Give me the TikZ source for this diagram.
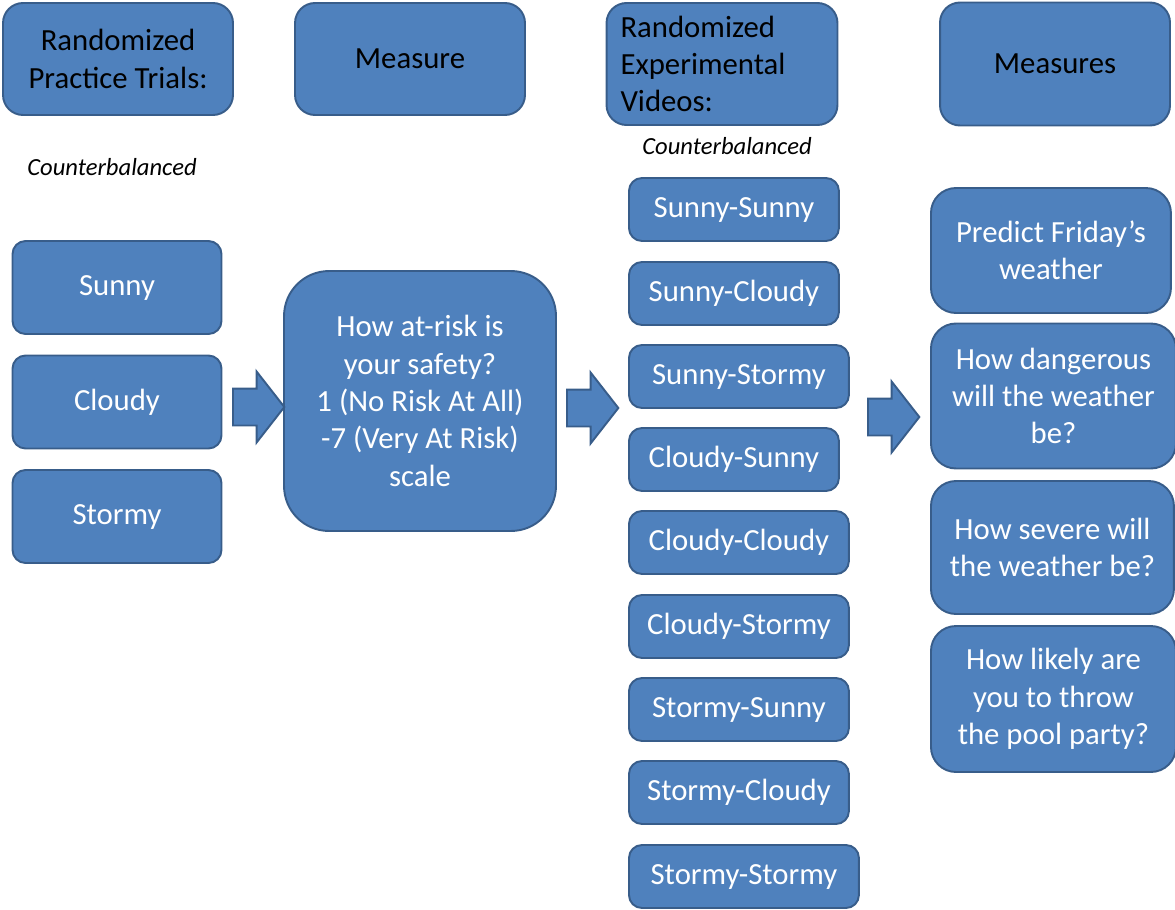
\documentclass[tikz,border=0pt]{standalone}
\usepackage{fontspec}
\setmainfont{Carlito}
\usetikzlibrary{positioning, shapes.arrows}

\definecolor{boxfill}{HTML}{4F81BD}
\definecolor{boxline}{HTML}{385D8A}

\begin{document}
\begin{tikzpicture}[
    x=0.02cm, y=-0.02cm,
    box/.style={rectangle, draw=boxline, fill=boxfill, line width=1.1pt,
                rounded corners=0.26cm, text=white, align=center,
                font=\fontsize{17.5}{21.3}\selectfont, inner sep=2pt},
    header/.style={box, text=black, rounded corners=0.4cm,
                   minimum width=4.6cm},
    trial/.style={box, minimum width=4.18cm, minimum height=1.86cm},
    video/.style={box, anchor=west, minimum height=1.26cm},
    measure/.style={box, anchor=west, rounded corners=0.5cm},
    note/.style={font=\fontsize{14}{16}\selectfont\itshape},
    blockarrow/.style={single arrow, draw=boxline, fill=boxfill, line width=1.1pt,
                       inner xsep=0.35cm, inner ysep=0.35cm,
                       single arrow head extend=0.34cm, single arrow tip angle=104}
]
\useasboundingbox (0,0) rectangle (1175,909);

% column headers
\node[header, minimum height=2.24cm] (practice) at (118,59) {Randomized\\Practice Trials:};
\node[header, minimum height=2.24cm] (measure) at (410,59) {Measure};
\node[header, minimum width=4.62cm, minimum height=2.44cm, align=left,
      text width=4.06cm, inner xsep=0.28cm] (videos) at (722,64)
      {Randomized\\Experimental\\Videos:};
\node[header, minimum height=2.46cm] (measures) at (1055,64) {Measures};

\node[note] (cb1) at (112,167) {Counterbalanced};
\node[note] (cb2) at (727,146) {Counterbalanced};

% practice trials
\node[trial] (sunny) at (117,287.5) {Sunny};
\node[trial] (cloudy) at (117,402) {Cloudy};
\node[trial] (stormy) at (117,516.5) {Stormy};

% risk question
\node[box, rounded corners=0.9cm, minimum width=5.44cm, minimum height=5.2cm]
     (risk) at (420,401)
     {How at-risk is\\your safety?\\1 (No Risk At All)\\-7 (Very At Risk)\\scale};

% experimental videos
\node[video, minimum width=4.2cm] (v1) at (628,209.5) {Sunny-Sunny};
\node[video, minimum width=4.2cm] (v2) at (628,293.5) {Sunny-Cloudy};
\node[video, minimum width=4.4cm] (v3) at (628,376.5) {Sunny-Stormy};
\node[video, minimum width=4.2cm] (v4) at (628,459.5) {Cloudy-Sunny};
\node[video, minimum width=4.4cm] (v5) at (628,542.5) {Cloudy-Cloudy};
\node[video, minimum width=4.4cm] (v6) at (628,626.5) {Cloudy-Stormy};
\node[video, minimum width=4.4cm] (v7) at (628,709.5) {Stormy-Sunny};
\node[video, minimum width=4.4cm] (v8) at (628,792.5) {Stormy-Cloudy};
\node[video, minimum width=4.6cm] (v9) at (628,876.5) {Stormy-Stormy};

% outcome measures
\node[measure, minimum width=4.8cm, minimum height=2.5cm] (m1) at (930,250.5)
     {Predict Friday’s\\weather};
\node[measure, minimum width=4.9cm, minimum height=2.9cm] (m2) at (930,396)
     {How dangerous\\will the weather\\be?};
\node[measure, minimum width=4.86cm, minimum height=2.66cm] (m3) at (930,547.5)
     {How severe will\\the weather be?};
\node[measure, minimum width=4.9cm, minimum height=2.92cm] (m4) at (930,699)
     {How likely are\\you to throw\\the pool party?};

% block arrows
\node[blockarrow, anchor=tail] (a1) at (232,407) {};
\node[blockarrow, anchor=tail] (a2) at (566,408) {};
\node[blockarrow, anchor=tail] (a3) at (867,417) {};
\end{tikzpicture}
\end{document}
